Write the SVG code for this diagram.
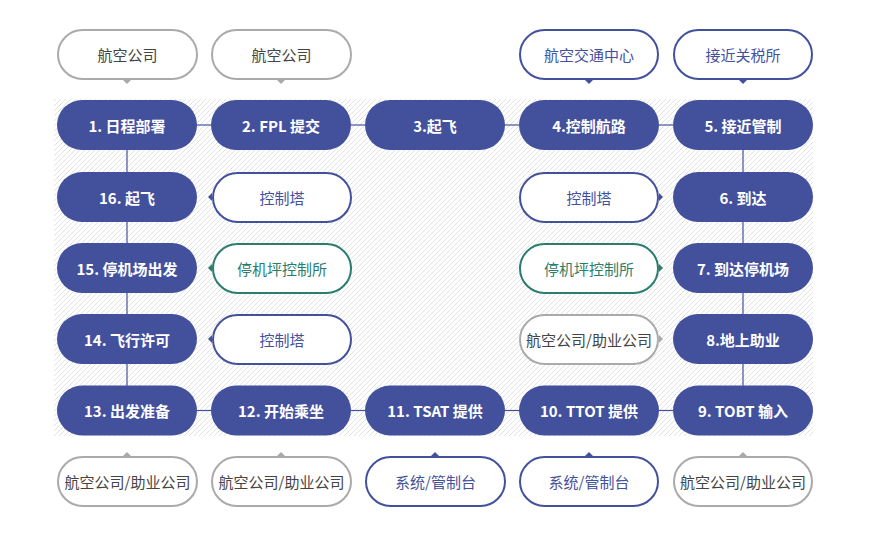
<svg xmlns="http://www.w3.org/2000/svg" width="870" height="539" viewBox="0 0 870 539">
<style>
text{font-family:"Noto Sans CJK SC","Noto Sans",sans-serif;font-size:15px;text-anchor:middle;dominant-baseline:central}
.main rect{fill:#43519d}
.main text{fill:#fff;font-weight:bold}
.ob rect{fill:#fff;stroke:#43519d;stroke-width:2}
.ob text{fill:#43519d}
.ob path{fill:#43519d}
.og rect{fill:#fff;stroke:#aaaaaa;stroke-width:2}
.og text{fill:#444}
.og path{fill:#aaaaaa}
.ot rect{fill:#fff;stroke:#2b7d6d;stroke-width:2}
.ot text{fill:#2b7d6d}
.ot path{fill:#2b7d6d}
#connectors line{stroke:#43519d;stroke-width:1.2}
</style>
<defs>
<pattern id="hatch" width="5" height="5" patternUnits="userSpaceOnUse">
<rect width="5" height="5" fill="#fff"/>
<path d="M-1,1 L1,-1 M0,5 L5,0 M4,6 L6,4" stroke="#e2e2e2" stroke-width="1"/>
</pattern>
</defs>
<rect x="54" y="99" width="759" height="337" fill="url(#hatch)"/>
<g id="connectors">
<line x1="197" y1="125" x2="211" y2="125"/>
<line x1="351" y1="125" x2="365" y2="125"/>
<line x1="505" y1="125" x2="519" y2="125"/>
<line x1="659" y1="125" x2="673" y2="125"/>
<line x1="197" y1="410.5" x2="211" y2="410.5"/>
<line x1="351" y1="410.5" x2="365" y2="410.5"/>
<line x1="505" y1="410.5" x2="519" y2="410.5"/>
<line x1="659" y1="410.5" x2="673" y2="410.5"/>
<line x1="127" y1="150" x2="127" y2="386"/>
<line x1="743" y1="150" x2="743" y2="386"/>
</g>
<!-- top labels -->
<g id="t1" class="og"><rect x="58" y="30" width="139" height="49" rx="24.5"/><path d="M123,80 L131,80 L127,84 Z"/><text x="127.5" y="54.5">航空公司</text></g>
<g id="t2" class="og"><rect x="212" y="30" width="139" height="49" rx="24.5"/><path d="M277,80 L285,80 L281,84 Z"/><text x="281.5" y="54.5">航空公司</text></g>
<g id="t4" class="ob"><rect x="520" y="30" width="138" height="49" rx="24.5"/><path d="M585,80 L593,80 L589,84 Z"/><text x="589" y="54.5">航空交通中心</text></g>
<g id="t5" class="ob"><rect x="674" y="30" width="138" height="49" rx="24.5"/><path d="M739,80 L747,80 L743,84 Z"/><text x="743" y="54.5">接近关税所</text></g>
<!-- main nodes -->
<g id="n1" class="main"><rect x="57" y="100" width="140" height="50" rx="25"/><text x="127" y="125">1. 日程部署</text></g>
<g id="n2" class="main"><rect x="211" y="100" width="140" height="50" rx="25"/><text x="281" y="125">2. FPL 提交</text></g>
<g id="n3" class="main"><rect x="365" y="100" width="140" height="50" rx="25"/><text x="435" y="125">3.起飞</text></g>
<g id="n4" class="main"><rect x="519" y="100" width="140" height="50" rx="25"/><text x="589" y="125">4.控制航路</text></g>
<g id="n5" class="main"><rect x="673" y="100" width="140" height="50" rx="25"/><text x="743" y="125">5. 接近管制</text></g>
<g id="n6" class="main"><rect x="673" y="172" width="140" height="50" rx="25"/><text x="743" y="197">6. 到达</text></g>
<g id="n7" class="main"><rect x="673" y="243" width="140" height="50" rx="25"/><text x="743" y="268">7. 到达停机场</text></g>
<g id="n8" class="main"><rect x="673" y="314" width="140" height="50" rx="25"/><text x="743" y="339">8.地上助业</text></g>
<g id="n9" class="main"><rect x="673" y="385.5" width="140" height="50" rx="25"/><text x="743" y="410.5">9. TOBT 输入</text></g>
<g id="n10" class="main"><rect x="519" y="385.5" width="140" height="50" rx="25"/><text x="589" y="410.5">10. TTOT 提供</text></g>
<g id="n11" class="main"><rect x="365" y="385.5" width="140" height="50" rx="25"/><text x="435" y="410.5">11. TSAT 提供</text></g>
<g id="n12" class="main"><rect x="211" y="385.5" width="140" height="50" rx="25"/><text x="281" y="410.5">12. 开始乘坐</text></g>
<g id="n13" class="main"><rect x="57" y="385.5" width="140" height="50" rx="25"/><text x="127" y="410.5">13. 出发准备</text></g>
<g id="n14" class="main"><rect x="57" y="314" width="140" height="50" rx="25"/><text x="127" y="339">14. 飞行许可</text></g>
<g id="n15" class="main"><rect x="57" y="243" width="140" height="50" rx="25"/><text x="127" y="268">15. 停机场出发</text></g>
<g id="n16" class="main"><rect x="57" y="172" width="140" height="50" rx="25"/><text x="127" y="197">16. 起飞</text></g>
<!-- side labels left -->
<g id="s16" class="ob"><rect x="213" y="173" width="138" height="49" rx="24.5"/><path d="M212,193 L212,201 L208,197 Z"/><text x="282" y="197.5">控制塔</text></g>
<g id="s15" class="ot"><rect x="213" y="244" width="138" height="49" rx="24.5"/><path d="M212,264 L212,272 L208,268 Z"/><text x="282" y="268.5">停机坪控制所</text></g>
<g id="s14" class="ob"><rect x="213" y="315" width="138" height="49" rx="24.5"/><path d="M212,335 L212,343 L208,339 Z"/><text x="282" y="339.5">控制塔</text></g>
<!-- side labels right -->
<g id="s6" class="ob"><rect x="520" y="173" width="138" height="49" rx="24.5"/><path d="M659,193 L659,201 L663,197 Z"/><text x="589" y="197.5">控制塔</text></g>
<g id="s7" class="ot"><rect x="520" y="244" width="138" height="49" rx="24.5"/><path d="M659,264 L659,272 L663,268 Z"/><text x="589" y="268.5">停机坪控制所</text></g>
<g id="s8" class="og"><rect x="520" y="315" width="138" height="49" rx="24.5"/><path d="M659,335 L659,343 L663,339 Z"/><text x="589" y="339.5">航空公司/助业公司</text></g>
<!-- bottom labels -->
<g id="b13" class="og"><rect x="58" y="457" width="139" height="49" rx="24.5"/><path d="M123,456 L131,456 L127,452 Z"/><text x="127.5" y="481.5">航空公司/助业公司</text></g>
<g id="b12" class="og"><rect x="212" y="457" width="139" height="49" rx="24.5"/><path d="M277,456 L285,456 L281,452 Z"/><text x="281.5" y="481.5">航空公司/助业公司</text></g>
<g id="b11" class="ob"><rect x="366" y="457" width="139" height="49" rx="24.5"/><path d="M431,456 L439,456 L435,452 Z"/><text x="435.5" y="481.5">系统/管制台</text></g>
<g id="b10" class="ob"><rect x="520" y="457" width="138" height="49" rx="24.5"/><path d="M585,456 L593,456 L589,452 Z"/><text x="589" y="481.5">系统/管制台</text></g>
<g id="b9" class="og"><rect x="674" y="457" width="138" height="49" rx="24.5"/><path d="M739,456 L747,456 L743,452 Z"/><text x="743" y="481.5">航空公司/助业公司</text></g>
</svg>
